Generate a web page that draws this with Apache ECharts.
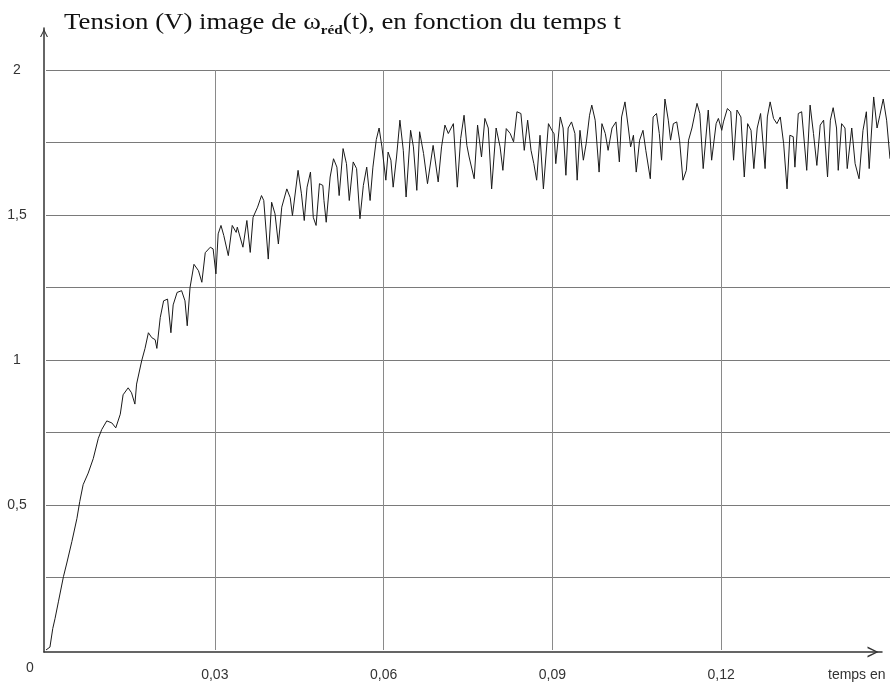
<!DOCTYPE html>
<html>
<head>
<meta charset="utf-8">
<script src="https://cdn.jsdelivr.net/npm/echarts@6/dist/echarts.min.js"></script>
<style>
html,body{margin:0;padding:0;background:#fff;}
#chart{width:890px;height:684px;}
</style>
</head>
<body>
<div id="chart"></div>
<script>
// time (s)
var time = [
0,0.0007,0.0012,0.0016,0.0022,0.0031,0.0037,0.0046,0.0055,0.0060,
0.0066,0.0075,0.0084,0.0093,0.0099,0.0108,0.0117,0.0124,0.0132,0.0137,
0.0146,0.0152,0.0158,0.0161,0.0170,0.0176,0.0182,0.0188,0.0194,0.0197,
0.0203,0.0209,0.0216,0.0222,0.0226,0.0233,0.0241,0.0247,0.0251,0.0256,
0.0263,0.0271,0.0277,0.0283,0.0292,0.0297,0.0302,0.0306,0.0311,0.0316,
0.0324,0.0331,0.0338,0.0340,0.0350,0.0357,0.0363,0.0368,0.0376,0.0383,
0.0387,0.0395,0.0401,0.0407,0.0413,0.0419,0.0428,0.0434,0.0438,0.0448,
0.0454,0.0459,0.0464,0.0470,0.0475,0.0480,0.0486,0.0492,0.0494,0.0498,
0.0505,0.0511,0.0517,0.0521,0.0528,0.0534,0.0539,0.0546,0.0552,0.0558,
0.0564,0.0570,0.0576,0.0581,0.0587,0.0592,0.0597,0.0604,0.0608,0.0613,
0.0617,0.0623,0.0629,0.0635,0.0640,0.0648,0.0653,0.0659,0.0664,0.0671,
0.0678,0.0688,0.0697,0.0703,0.0709,0.0715,0.0724,0.0731,0.0737,0.0743,
0.0748,0.0752,0.0761,0.0767,0.0774,0.0780,0.0786,0.0792,0.0800,0.0807,
0.0812,0.0818,0.0825,0.0831,0.0837,0.0844,0.0850,0.0856,0.0862,0.0867,
0.0872,0.0878,0.0884,0.0893,0.0899,0.0903,0.0906,0.0914,0.0919,0.0924,
0.0928,0.0934,0.0940,0.0944,0.0949,0.0955,0.0960,0.0966,0.0970,0.0976,
0.0983,0.0988,0.0994,0.0999,0.1006,0.1013,0.1019,0.1023,0.1029,0.1035,
0.1039,0.1044,0.1049,0.1055,0.1061,0.1066,0.1074,0.1079,0.1085,0.1090,
0.1094,0.1100,0.1106,0.1110,0.1115,0.1121,0.1126,0.1132,0.1138,0.1142,
0.1148,0.1157,0.1162,0.1168,0.1177,0.1183,0.1191,0.1195,0.1201,0.1204,
0.1211,0.1217,0.1222,0.1228,0.1235,0.1241,0.1247,0.1253,0.1258,0.1264,
0.1270,0.1278,0.1282,0.1287,0.1293,0.1299,0.1305,0.1311,0.1317,0.1322,
0.1328,0.1331,0.1337,0.1343,0.1352,0.1358,0.1364,0.1370,0.1376,0.1382,
0.1389,0.1394,0.1399,0.1405,0.1408,0.1414,0.1420,0.1424,0.1432,0.1438,
0.1445,0.1452,0.1458,0.1463,0.1471,0.1477,0.1482,0.1488,0.1494,0.1500
];
// tension (V)
var tension = [
0,0.01,0.074,0.108,0.166,0.253,0.30,0.374,0.454,0.512,
0.57,0.61,0.66,0.73,0.76,0.79,0.783,0.766,0.813,0.88,
0.904,0.887,0.848,0.917,0.997,1.04,1.094,1.077,1.07,1.04,
1.146,1.204,1.21,1.094,1.19,1.233,1.239,1.204,1.118,1.25,
1.33,1.308,1.268,1.37,1.389,1.383,1.297,1.435,1.464,1.429,
1.36,1.464,1.44,1.458,1.389,1.481,1.371,1.492,1.527,1.567,
1.55,1.348,1.544,1.504,1.40,1.527,1.59,1.56,1.498,1.654,
1.573,1.481,1.596,1.648,1.492,1.464,1.608,1.602,1.55,1.475,
1.631,1.694,1.665,1.567,1.729,1.677,1.55,1.683,1.66,1.487,
1.602,1.665,1.55,1.665,1.76,1.80,1.735,1.62,1.717,1.689,
1.596,1.70,1.827,1.723,1.562,1.792,1.735,1.585,1.787,1.712,
1.608,1.74,1.614,1.735,1.81,1.781,1.815,1.596,1.764,1.844,
1.74,1.70,1.625,1.81,1.70,1.833,1.80,1.59,1.80,1.735,
1.654,1.798,1.781,1.752,1.856,1.85,1.723,1.827,1.723,1.677,
1.62,1.775,1.59,1.815,1.792,1.78,1.677,1.838,1.80,1.637,
1.80,1.821,1.781,1.62,1.792,1.689,1.746,1.844,1.879,1.827,
1.648,1.815,1.781,1.723,1.80,1.821,1.683,1.838,1.89,1.80,
1.735,1.775,1.648,1.758,1.792,1.723,1.625,1.838,1.85,1.781,
1.689,1.90,1.827,1.758,1.815,1.821,1.758,1.62,1.654,1.758,
1.80,1.885,1.85,1.66,1.862,1.689,1.815,1.833,1.792,1.821,
1.867,1.856,1.689,1.862,1.838,1.631,1.815,1.792,1.66,1.80,
1.85,1.66,1.838,1.89,1.833,1.815,1.838,1.746,1.59,1.775,
1.77,1.665,1.85,1.856,1.654,1.879,1.781,1.671,1.81,1.827,
1.631,1.827,1.87,1.80,1.654,1.815,1.80,1.66,1.80,1.677,
1.625,1.792,1.856,1.66,1.907,1.80,1.844,1.90,1.827,1.694
];
var xTicks = [0.03, 0.06, 0.09, 0.12];
var yTickLabels = [0.5, 1, 1.5, 2];

var labelFont = "'Liberation Sans',Arial,sans-serif";
var serifFont = "'Liberation Serif','Times New Roman',serif";
var chevron = 'path://M0,20 L10,0 L20,20 L17,20 L10,5 L3,20 Z';

var chart = echarts.init(document.getElementById('chart'), null, {renderer: 'canvas'});
var seriesData = time.map(function (t, i) { return [t, tension[i]]; });

function fmt(v) { return String(v).replace('.', ','); }

chart.setOption({
  animation: false,
  backgroundColor: '#ffffff',
  grid: [
    {left: 46, right: 0, top: 70, bottom: 34, outerBoundsMode: 'none'},
    {left: 44, right: 8, top: 28, bottom: 32, outerBoundsMode: 'none'}
  ],
  xAxis: [
    {
      gridIndex: 0, type: 'value', min: 0, max: 0.15, interval: 0.03,
      axisLine: {show: false}, axisTick: {show: false},
      splitLine: {show: true, showMinLine: false, lineStyle: {color: '#8a8a8a', width: 1}},
      axisLabel: {
        margin: 18, color: '#333', fontSize: 14, fontFamily: labelFont,
        formatter: function (v) {
          for (var i = 0; i < xTicks.length; i++) if (Math.abs(v - xTicks[i]) < 1e-9) return fmt(xTicks[i].toFixed(2));
          return '';
        }
      },
      name: 'temps en s', nameLocation: 'end', nameGap: -62,
      nameTextStyle: {color: '#333', fontSize: 14, fontFamily: labelFont, align: 'left', verticalAlign: 'top', padding: [18, 0, 0, 0]}
    },
    {
      gridIndex: 1, type: 'value', min: 0, max: 1,
      axisLine: {show: true, onZero: false, symbol: ['none', chevron], symbolSize: [11, 18], symbolOffset: [0, -9], lineStyle: {color: '#333', width: 1.5}},
      axisTick: {show: false}, axisLabel: {show: false}, splitLine: {show: false}
    }
  ],
  yAxis: [
    {
      gridIndex: 0, type: 'value', min: 0, max: 2, interval: 0.25,
      axisLine: {show: false}, axisTick: {show: false},
      splitLine: {show: true, showMinLine: false, lineStyle: {color: '#7a7a7a', width: 1}},
      axisLabel: {
        margin: 29, align: 'center', color: '#333', fontSize: 14, fontFamily: labelFont,
        formatter: function (v) {
          for (var i = 0; i < yTickLabels.length; i++) if (Math.abs(v - yTickLabels[i]) < 1e-9) return fmt(yTickLabels[i]);
          return '';
        }
      }
    },
    {
      gridIndex: 1, type: 'value', min: 0, max: 1,
      axisLine: {show: true, onZero: false, symbol: ['none', chevron], symbolSize: [8, 10], symbolOffset: [0, -5], lineStyle: {color: '#333', width: 1.5}},
      axisTick: {show: false}, axisLabel: {show: false}, splitLine: {show: false}
    }
  ],
  graphic: [
    {
      type: 'text', x: 64, y: 9, scaleX: 1.165,
      style: {
        text: '{a|Tension (V) image de ω}{b|réd}{a|(t), en fonction du temps t}',
        rich: {
          a: {fontFamily: serifFont, fontSize: 23, fill: '#111', lineHeight: 28},
          b: {fontFamily: serifFont, fontSize: 13, fontWeight: 'bold', fill: '#111', lineHeight: 28, verticalAlign: 'bottom', padding: [10, 0, 0, 0]}
        }
      }
    },
    {type: 'text', x: 26, y: 661, style: {text: '0', fontSize: 14, fontFamily: labelFont, fill: '#333'}}
  ],
  series: [
    {
      type: 'line', xAxisIndex: 0, yAxisIndex: 0, data: seriesData,
      showSymbol: false, symbol: 'none', smooth: false,
      lineStyle: {color: '#1a1a1a', width: 1}
    }
  ]
});
</script>
</body>
</html>
